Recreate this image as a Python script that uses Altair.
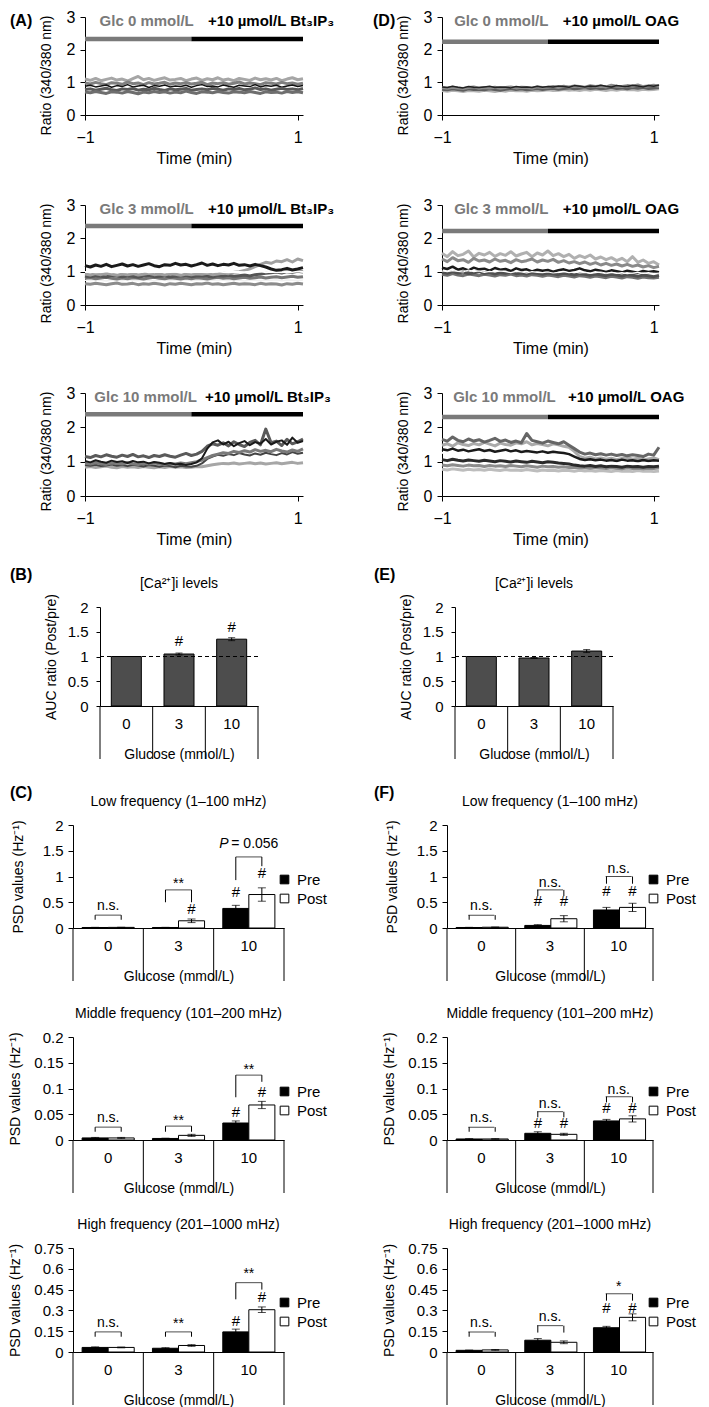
import altair as alt
import pandas as pd

FONT = "Liberation Sans"

# ---------------- time axis of the ratio traces (min) ----------------
TIME = [-1.00, -0.95, -0.90, -0.85, -0.80, -0.75, -0.70,
        -0.65, -0.60, -0.55, -0.50, -0.45, -0.40, -0.35,
        -0.30, -0.25, -0.20, -0.15, -0.10, -0.05, 0.00,
        0.05, 0.10, 0.15, 0.20, 0.25, 0.30, 0.35,
        0.40, 0.45, 0.50, 0.55, 0.60, 0.65, 0.70,
        0.75, 0.80, 0.85, 0.90, 0.95, 1.00, 1.05]

# ---------------- (A) Bt3IP3, Glc 0 ----------------
A0_1 = [1.10, 1.06, 1.12, 1.05, 1.09, 1.13, 1.07, 1.10, 1.04, 1.11, 1.18, 1.08, 1.12, 1.06,
        1.10, 1.14, 1.07, 1.09, 1.12, 1.05, 1.10, 1.13, 1.06, 1.11, 1.08, 1.14, 1.07, 1.10,
        1.05, 1.12, 1.09, 1.06, 1.13, 1.08, 1.11, 1.07, 1.12, 1.05, 1.10, 1.14, 1.08, 1.11]
A0_2 = [0.98, 0.95, 1.00, 0.96, 0.93, 0.99, 0.97, 0.94, 1.01, 0.96, 0.98, 0.93, 0.99, 0.95,
        0.97, 1.00, 0.94, 0.98, 0.96, 0.99, 0.95, 0.97, 1.00, 0.93, 0.98, 0.96, 0.99, 0.94,
        0.97, 1.01, 0.95, 0.98, 0.96, 0.93, 0.99, 0.97, 0.95, 1.00, 0.96, 0.98, 0.94, 0.97]
A0_3 = [0.88, 0.91, 0.86, 0.89, 0.92, 0.85, 0.90, 0.87, 0.93, 0.86, 0.89, 0.91, 0.84, 0.90,
        0.88, 0.92, 0.86, 0.89, 0.87, 0.91, 0.85, 0.90, 0.93, 0.87, 0.89, 0.86, 0.92, 0.88,
        0.85, 0.91, 0.89, 0.87, 0.93, 0.86, 0.90, 0.88, 0.91, 0.85, 0.89, 0.92, 0.87, 0.90]
A0_4 = [0.78, 0.80, 0.76, 0.79, 0.82, 0.77, 0.75, 0.80, 0.78, 0.81, 0.76, 0.79, 0.77, 0.82,
        0.78, 0.75, 0.80, 0.77, 0.79, 0.81, 0.76, 0.78, 0.80, 0.77, 0.82, 0.79, 0.76, 0.80,
        0.78, 0.81, 0.77, 0.79, 0.83, 0.78, 0.80, 0.76, 0.79, 0.82, 0.78, 0.80, 0.77, 0.81]
A0_5 = [0.70, 0.68, 0.72, 0.69, 0.66, 0.71, 0.70, 0.67, 0.72, 0.69, 0.65, 0.70, 0.68, 0.72,
        0.69, 0.71, 0.67, 0.70, 0.68, 0.73, 0.69, 0.66, 0.71, 0.70, 0.68, 0.72, 0.69, 0.67,
        0.71, 0.70, 0.68, 0.72, 0.69, 0.66, 0.71, 0.69, 0.70, 0.67, 0.72, 0.69, 0.71, 0.68]

# ---------------- (A) Bt3IP3, Glc 3 ----------------
A3_1 = [0.64, 0.62, 0.65, 0.63, 0.61, 0.64, 0.66, 0.62, 0.63, 0.65, 0.61, 0.64, 0.62, 0.65,
        0.63, 0.60, 0.64, 0.62, 0.65, 0.63, 0.61, 0.64, 0.63, 0.66, 0.62, 0.64, 0.61, 0.63,
        0.65, 0.62, 0.64, 0.63, 0.61, 0.65, 0.62, 0.64, 0.63, 0.60, 0.64, 0.62, 0.65, 0.63]
A3_2 = [0.74, 0.73, 0.75, 0.74, 0.72, 0.75, 0.74, 0.73, 0.76, 0.74, 0.73, 0.75, 0.74, 0.72,
        0.75, 0.74, 0.73, 0.75, 0.74, 0.76, 0.73, 0.74, 0.75, 0.73, 0.74, 0.76, 0.74, 0.73,
        0.75, 0.74, 0.72, 0.75, 0.74, 0.73, 0.75, 0.74, 0.76, 0.73, 0.75, 0.74, 0.73, 0.75]
A3_3 = [0.80, 0.82, 0.79, 0.81, 0.83, 0.80, 0.78, 0.81, 0.79, 0.82, 0.80, 0.78, 0.81, 0.83,
        0.80, 0.79, 0.82, 0.80, 0.78, 0.81, 0.79, 0.82, 0.80, 0.78, 0.81, 0.83, 0.80, 0.82,
        0.79, 0.81, 0.83, 0.80, 0.82, 0.84, 0.81, 0.83, 0.85, 0.82, 0.84, 0.86, 0.83, 0.85]
A3_4 = [0.87, 0.85, 0.88, 0.86, 0.84, 0.89, 0.87, 0.85, 0.88, 0.86, 0.83, 0.87, 0.89, 0.85,
        0.86, 0.88, 0.84, 0.87, 0.86, 0.89, 0.85, 0.87, 0.88, 0.86, 0.84, 0.88, 0.87, 0.89,
        0.86, 0.88, 0.90, 0.87, 0.91, 0.93, 0.95, 0.97, 0.99, 0.96, 1.00, 0.98, 1.01, 0.99]
A3_5 = [0.93, 0.90, 0.94, 0.91, 0.95, 0.92, 0.89, 0.93, 0.91, 0.94, 0.90, 0.92, 0.95, 0.91,
        0.93, 0.90, 0.94, 0.92, 0.89, 0.93, 0.91, 0.94, 0.92, 0.95, 0.91, 0.93, 0.96, 0.94,
        0.98, 1.00, 1.04, 1.08, 1.15, 1.22, 1.28, 1.25, 1.32, 1.30, 1.36, 1.29, 1.38, 1.33]
A3_6 = [0.99, 1.00, 0.98, 0.99, 1.01, 0.98, 1.00, 0.99, 0.98, 1.00, 0.99, 1.01, 0.98, 0.99,
        1.00, 0.98, 0.99, 1.00, 1.01, 0.99, 0.98, 1.00, 0.99, 0.98, 1.00, 1.01, 0.99, 0.98,
        1.00, 0.99, 0.98, 1.00, 0.99, 1.01, 0.98, 1.00, 0.99, 0.98, 1.00, 0.99, 1.01, 0.99]
A3_7 = [1.18, 1.14, 1.20, 1.16, 1.22, 1.15, 1.19, 1.23, 1.17, 1.21, 1.16, 1.20, 1.24, 1.18,
        1.15, 1.21, 1.19, 1.25, 1.20, 1.22, 1.17, 1.21, 1.26, 1.19, 1.23, 1.18, 1.22, 1.20,
        1.25, 1.19, 1.21, 1.17, 1.22, 1.18, 1.14, 1.08, 1.04, 1.06, 1.10, 1.05, 1.08, 1.12]

# ---------------- (A) Bt3IP3, Glc 10 ----------------
A10_1 = [0.84, 0.86, 0.83, 0.85, 0.87, 0.84, 0.82, 0.86, 0.84, 0.85, 0.83, 0.86, 0.84, 0.82,
         0.85, 0.83, 0.86, 0.84, 0.85, 0.83, 0.84, 0.86, 0.85, 0.88, 0.91, 0.93, 0.95, 0.94,
         0.96, 0.93, 0.95, 0.97, 0.94, 0.96, 0.93, 0.95, 0.97, 0.94, 0.96, 0.98, 0.95, 0.97]
A10_2 = [0.90, 0.88, 0.91, 0.87, 0.89, 0.92, 0.88, 0.90, 0.87, 0.91, 0.89, 0.86, 0.90, 0.88,
         0.85, 0.89, 0.87, 0.84, 0.88, 0.86, 0.85, 0.88, 0.95, 1.08, 1.15, 1.20, 1.17, 1.22,
         1.19, 1.25, 1.21, 1.18, 1.24, 1.20, 1.26, 1.22, 1.19, 1.25, 1.21, 1.28, 1.23, 1.26]
A10_3 = [0.95, 0.93, 0.97, 0.94, 0.92, 0.96, 0.95, 0.93, 0.97, 0.94, 0.92, 0.95, 0.93, 0.96,
         0.94, 0.92, 0.95, 0.93, 0.96, 0.94, 0.97, 1.00, 1.05, 1.12, 1.18, 1.22, 1.26, 1.24,
         1.30, 1.27, 1.32, 1.28, 1.35, 1.30, 1.33, 1.29, 1.36, 1.31, 1.28, 1.34, 1.30, 1.37]
A10_4 = [1.15, 1.12, 1.18, 1.14, 1.20, 1.16, 1.13, 1.19, 1.15, 1.21, 1.14, 1.17, 1.12, 1.18,
         1.15, 1.20, 1.16, 1.13, 1.19, 1.24, 1.18, 1.22, 1.30, 1.45, 1.52, 1.48, 1.55, 1.46,
         1.58, 1.50, 1.44, 1.56, 1.62, 1.49, 1.95, 1.55, 1.60, 1.47, 1.65, 1.52, 1.58, 1.66]
A10_5 = [1.02, 0.98, 1.04, 1.00, 0.97, 1.03, 0.99, 1.01, 0.96, 1.02, 0.98, 1.00, 0.95, 0.99,
         0.97, 0.93, 0.96, 0.92, 0.94, 0.90, 0.93, 0.98, 1.10, 1.38, 1.56, 1.62, 1.50, 1.58,
         1.45, 1.54, 1.60, 1.48, 1.57, 1.52, 1.66, 1.50, 1.58, 1.62, 1.49, 1.70, 1.55, 1.60]

# ---------------- (D) OAG, Glc 0 ----------------
D0_1 = [0.75, 0.73, 0.76, 0.74, 0.72, 0.75, 0.74, 0.73, 0.76, 0.74, 0.72, 0.75, 0.73, 0.76,
        0.74, 0.75, 0.73, 0.76, 0.74, 0.75, 0.77, 0.75, 0.76, 0.78, 0.76, 0.77, 0.75, 0.78,
        0.76, 0.79, 0.77, 0.75, 0.78, 0.76, 0.79, 0.77, 0.78, 0.76, 0.79, 0.77, 0.78, 0.80]
D0_2 = [0.79, 0.77, 0.80, 0.78, 0.76, 0.80, 0.78, 0.79, 0.77, 0.80, 0.78, 0.76, 0.79, 0.81,
        0.78, 0.80, 0.77, 0.79, 0.81, 0.78, 0.80, 0.82, 0.79, 0.81, 0.83, 0.80, 0.82, 0.84,
        0.81, 0.83, 0.80, 0.82, 0.85, 0.81, 0.83, 0.80, 0.84, 0.82, 0.85, 0.81, 0.83, 0.84]
D0_3 = [0.84, 0.82, 0.85, 0.83, 0.81, 0.84, 0.86, 0.82, 0.84, 0.83, 0.85, 0.82, 0.84, 0.86,
        0.83, 0.85, 0.84, 0.82, 0.86, 0.84, 0.85, 0.87, 0.84, 0.88, 0.86, 0.89, 0.87, 0.85,
        0.90, 0.87, 0.89, 0.86, 0.91, 0.88, 0.87, 0.90, 0.88, 0.92, 0.87, 0.89, 0.91, 0.88]
D0_4 = [0.86, 0.84, 0.88, 0.85, 0.83, 0.87, 0.85, 0.84, 0.86, 0.88, 0.84, 0.86, 0.85, 0.83,
        0.87, 0.85, 0.86, 0.84, 0.88, 0.85, 0.87, 0.86, 0.89, 0.87, 0.85, 0.90, 0.88, 0.86,
        0.89, 0.87, 0.91, 0.88, 0.86, 0.90, 0.88, 0.87, 0.91, 0.89, 0.86, 0.90, 0.88, 0.92]

# ---------------- (D) OAG, Glc 3 ----------------
D3_1 = [1.55, 1.45, 1.60, 1.48, 1.52, 1.62, 1.44, 1.55, 1.50, 1.58, 1.46, 1.54, 1.49, 1.60,
        1.47, 1.53, 1.58, 1.45, 1.56, 1.50, 1.62, 1.48, 1.54, 1.45, 1.52, 1.40, 1.48, 1.42,
        1.50, 1.38, 1.44, 1.36, 1.42, 1.33, 1.40, 1.30, 1.45, 1.28, 1.35, 1.25, 1.30, 1.20]
D3_2 = [1.38, 1.30, 1.42, 1.33, 1.36, 1.28, 1.40, 1.32, 1.35, 1.29, 1.38, 1.31, 1.34, 1.27,
        1.36, 1.30, 1.33, 1.38, 1.29, 1.35, 1.31, 1.37, 1.28, 1.33, 1.26, 1.30, 1.24, 1.29,
        1.22, 1.27, 1.20, 1.25, 1.19, 1.23, 1.17, 1.22, 1.16, 1.20, 1.14, 1.18, 1.12, 1.16]
D3_3 = [0.92, 0.89, 0.94, 0.90, 0.88, 0.93, 0.91, 0.88, 0.92, 0.90, 0.87, 0.91, 0.89, 0.93,
        0.88, 0.90, 0.87, 0.91, 0.89, 0.86, 0.90, 0.88, 0.85, 0.89, 0.87, 0.84, 0.88, 0.86,
        0.83, 0.87, 0.85, 0.82, 0.86, 0.84, 0.81, 0.85, 0.83, 0.80, 0.84, 0.82, 0.81, 0.83]
D3_4 = [0.98, 0.95, 1.00, 0.96, 0.99, 0.94, 0.97, 1.00, 0.95, 0.98, 0.93, 0.97, 0.95, 0.99,
        0.94, 0.96, 0.93, 0.97, 0.95, 0.92, 0.96, 0.94, 0.91, 0.95, 0.93, 0.90, 0.94, 0.92,
        0.89, 0.93, 0.91, 0.88, 0.92, 0.90, 0.87, 0.91, 0.89, 0.86, 0.90, 0.88, 0.85, 0.89]
D3_5 = [1.12, 1.08, 1.15, 1.06, 1.10, 1.04, 1.12, 1.07, 1.09, 1.03, 1.11, 1.06, 1.08, 1.02,
        1.10, 1.05, 1.07, 1.01, 1.06, 1.03, 1.05, 1.00, 1.04, 1.07, 1.02, 1.05, 1.10, 1.04,
        1.01, 1.06, 1.03, 0.99, 1.04, 1.01, 0.98, 1.03, 1.00, 0.97, 1.02, 0.99, 1.01, 0.98]
D3_6 = [1.02, 1.00, 1.03, 1.01, 0.99, 1.05, 1.00, 1.02, 0.98, 1.01, 0.99, 1.02, 1.00, 0.97,
        1.01, 0.99, 0.96, 1.00, 0.98, 0.97, 0.99, 0.96, 0.98, 1.00, 0.97, 0.99, 0.96, 0.98,
        0.95, 0.97, 0.99, 0.96, 0.98, 0.95, 0.97, 0.94, 0.96, 0.98, 0.95, 0.97, 0.94, 0.96]

# ---------------- (D) OAG, Glc 10 ----------------
D10_1 = [0.78, 0.76, 0.79, 0.77, 0.75, 0.78, 0.76, 0.77, 0.75, 0.78, 0.76, 0.74, 0.77, 0.75,
         0.76, 0.74, 0.77, 0.75, 0.73, 0.76, 0.74, 0.75, 0.73, 0.75, 0.74, 0.72, 0.75, 0.73,
         0.74, 0.72, 0.74, 0.73, 0.71, 0.74, 0.72, 0.73, 0.71, 0.74, 0.72, 0.73, 0.71, 0.73]
D10_2 = [0.90, 0.88, 0.91, 0.89, 0.87, 0.90, 0.88, 0.89, 0.86, 0.89, 0.87, 0.88, 0.86, 0.89,
         0.87, 0.85, 0.88, 0.86, 0.84, 0.87, 0.85, 0.86, 0.84, 0.85, 0.83, 0.84, 0.82, 0.83,
         0.81, 0.83, 0.82, 0.80, 0.82, 0.81, 0.79, 0.82, 0.80, 0.81, 0.79, 0.81, 0.80, 0.82]
D10_3 = [1.06, 1.03, 1.07, 1.04, 1.02, 1.05, 1.03, 1.01, 1.04, 1.02, 1.00, 1.03, 1.01, 0.99,
         1.02, 1.00, 0.98, 1.01, 0.99, 0.97, 1.00, 0.98, 0.96, 0.95, 0.93, 0.90, 0.88, 0.87,
         0.89, 0.86, 0.88, 0.85, 0.87, 0.86, 0.84, 0.87, 0.85, 0.86, 0.84, 0.86, 0.85, 0.87]
D10_4 = [1.48, 1.52, 1.45, 1.55, 1.50, 1.47, 1.53, 1.49, 1.56, 1.51, 1.46, 1.54, 1.50, 1.48,
         1.55, 1.52, 1.58, 1.49, 1.53, 1.50, 1.46, 1.52, 1.49, 1.45, 1.42, 1.30, 1.15, 1.10,
         1.13, 1.08, 1.11, 1.07, 1.10, 1.06, 1.09, 1.12, 1.07, 1.10, 1.05, 1.08, 1.11, 1.06]
D10_5 = [1.65, 1.60, 1.72, 1.62, 1.58, 1.66, 1.60, 1.64, 1.57, 1.62, 1.68, 1.59, 1.63, 1.56,
         1.60, 1.55, 1.82, 1.62, 1.58, 1.54, 1.60, 1.56, 1.52, 1.58, 1.48, 1.38, 1.28, 1.22,
         1.25, 1.20, 1.23, 1.19, 1.22, 1.18, 1.21, 1.17, 1.20, 1.18, 1.15, 1.22, 1.19, 1.42]
D10_6 = [1.36, 1.33, 1.38, 1.32, 1.35, 1.30, 1.33, 1.36, 1.31, 1.34, 1.29, 1.32, 1.35, 1.30,
         1.33, 1.28, 1.31, 1.29, 1.27, 1.30, 1.26, 1.29, 1.27, 1.25, 1.22, 1.15, 1.08, 1.05,
         1.07, 1.04, 1.06, 1.03, 1.05, 1.02, 1.06, 1.03, 1.04, 1.01, 1.05, 1.02, 1.04, 1.03]
D10_7 = [1.26, 1.24, 1.27, 1.23, 1.25, 1.22, 1.24, 1.23, 1.21, 1.23, 1.20, 1.22, 1.19, 1.21,
         1.18, 1.20, 1.17, 1.19, 1.16, 1.18, 1.15, 1.17, 1.14, 1.12, 1.08, 1.02, 0.98, 0.96,
         0.97, 0.95, 0.97, 0.94, 0.96, 0.95, 0.93, 0.96, 0.94, 0.95, 0.93, 0.95, 0.94, 0.96]

# trace styles (colour, line width), in drawing order
STY_A0 = [("#a6a6a6", 3), ("#808080", 3), ("#111111", 1.5), ("#595959", 3), ("#6e6e6e", 3)]
STY_A3 = [("#8c8c8c", 3), ("#f0f0f0", 1.5), ("#777777", 3), ("#555555", 3), ("#a0a0a0", 3),
          ("#ffffff", 2), ("#1a1a1a", 3)]
STY_A10 = [("#a6a6a6", 3), ("#444444", 2), ("#7a7a7a", 3), ("#5a5a5a", 3), ("#1a1a1a", 2)]
STY_D0 = [("#b3b3b3", 3), ("#5e5e5e", 3), ("#8c8c8c", 3), ("#222222", 1.5)]
STY_D3 = [("#b0b0b0", 3), ("#8a8a8a", 3), ("#707070", 3), ("#505050", 3), ("#1a1a1a", 2.5),
          ("#ffffff", 1.2)]
STY_D10 = [("#bdbdbd", 3), ("#8c8c8c", 3), ("#2a2a2a", 3), ("#aaaaaa", 3), ("#666666", 3),
           ("#1a1a1a", 2.5), ("#ffffff", 2)]

# ---------------- (B)/(E) AUC ratio ----------------
GLC = ["0", "3", "10"]
B_AUC = [1.00, 1.05, 1.35]
B_ERR = [0.0, 0.02, 0.03]
B_HASH = [("3", 1.31), ("10", 1.60)]
E_AUC = [1.00, 0.97, 1.11]
E_ERR = [0.0, 0.01, 0.03]
E_HASH = []

# ---------------- (C)/(F) PSD values ----------------
PHASES = ["Pre", "Post"]
C_LOW = dict(pre=[0.01, 0.01, 0.38], pre_err=[0.003, 0.003, 0.06],
             post=[0.012, 0.14, 0.65], post_err=[0.003, 0.035, 0.13])
C_LOW_HASH = [("3", "Post", 0.37), ("10", "Pre", 0.70), ("10", "Post", 1.07)]
C_LOW_BR = [("0", 0.25, 0.16, 0.16, "n.s.", 0.42), ("3", 0.74, 0.50, 0.50, "**", 0.85),
            ("10", 1.38, 0.93, 1.20, "P", 1.63)]
C_MID = dict(pre=[0.004, 0.003, 0.033], pre_err=[0.001, 0.0005, 0.004],
             post=[0.004, 0.009, 0.068], post_err=[0.001, 0.002, 0.007])
C_MID_HASH = [("10", "Pre", 0.054), ("10", "Post", 0.093)]
C_MID_BR = [("0", 0.025, 0.016, 0.016, "n.s.", 0.042), ("3", 0.027, 0.016, 0.016, "**", 0.037),
            ("10", 0.126, 0.083, 0.113, "**", 0.136)]
C_HIGH = dict(pre=[0.033, 0.027, 0.145], pre_err=[0.004, 0.004, 0.02],
              post=[0.033, 0.047, 0.305], post_err=[0.003, 0.006, 0.02])
C_HIGH_HASH = [("10", "Pre", 0.22), ("10", "Post", 0.40)]
C_HIGH_BR = [("0", 0.145, 0.11, 0.11, "n.s.", 0.21), ("3", 0.145, 0.11, 0.11, "**", 0.20),
             ("10", 0.50, 0.38, 0.45, "**", 0.56)]

F_LOW = dict(pre=[0.01, 0.05, 0.35], pre_err=[0.003, 0.015, 0.05],
             post=[0.015, 0.18, 0.40], post_err=[0.004, 0.06, 0.08])
F_LOW_HASH = [("3", "Pre", 0.52), ("3", "Post", 0.52), ("10", "Pre", 0.72), ("10", "Post", 0.72)]
F_LOW_BR = [("0", 0.25, 0.16, 0.16, "n.s.", 0.42), ("3", 0.74, 0.62, 0.62, "n.s.", 0.88),
            ("10", 1.00, 0.86, 0.86, "n.s.", 1.14)]
F_MID = dict(pre=[0.002, 0.013, 0.037], pre_err=[0.0005, 0.003, 0.003],
             post=[0.002, 0.011, 0.041], post_err=[0.0005, 0.002, 0.006])
F_MID_HASH = [("3", "Pre", 0.033), ("3", "Post", 0.033), ("10", "Pre", 0.062), ("10", "Post", 0.062)]
F_MID_BR = [("0", 0.025, 0.016, 0.016, "n.s.", 0.042), ("3", 0.055, 0.044, 0.044, "n.s.", 0.069),
            ("10", 0.084, 0.073, 0.073, "n.s.", 0.098)]
F_HIGH = dict(pre=[0.012, 0.085, 0.175], pre_err=[0.002, 0.012, 0.01],
              post=[0.015, 0.07, 0.25], post_err=[0.003, 0.01, 0.025])
F_HIGH_HASH = [("10", "Pre", 0.32), ("10", "Post", 0.32)]
F_HIGH_BR = [("0", 0.145, 0.11, 0.11, "n.s.", 0.21), ("3", 0.19, 0.14, 0.14, "n.s.", 0.255),
             ("10", 0.42, 0.37, 0.37, "*", 0.47)]

# ---------------- layout (pixels) ----------------
COL_L0, COL_L, COL_M, COL_R = 63, 230, 139, 217   # left margin, left cell, gap, right cell
SEP = 53                                           # length of the category separators


# ======================================================================
def spacer(w, h):
    return alt.Chart(pd.DataFrame({"z": [0]})).mark_point(opacity=0, size=1).encode(
        x=alt.value(w / 2), y=alt.value(h / 2)).properties(width=w, height=h)


def letter_mark(txt, dx, dy):
    return alt.Chart(pd.DataFrame({"s": [txt]})).mark_text(
        align="left", baseline="middle", fontSize=16, fontWeight="bold", font=FONT,
        color="black").encode(x=alt.value(dx), y=alt.value(dy), text="s:N")


def trace_panel(series, styles, glc_txt, drug_txt, glc_x, drug_x, bar_y, letter, letter_dx,
                shift, w, h, cellw):
    rows = []
    for i, (vals, (col, sw)) in enumerate(zip(series, styles)):
        for t, v in zip(TIME, vals):
            rows.append({"t": t, "r": v, "id": f"s{i:02d}", "col": col, "sw": sw})
    df = pd.DataFrame(rows)
    xs = alt.Scale(domain=[-1, 1.05], range=[shift, shift + w], nice=False, zero=False)
    ys = alt.Scale(domain=[0, 3], nice=False)
    xax = alt.Axis(values=[-1, 0, 1], format="d", title="Time (min)", labelFontSize=16,
                   titleFontSize=16, tickSize=5, labelPadding=9, titlePadding=5,
                   labelFlush=False, grid=False)
    yax = alt.Axis(values=[0, 1, 2, 3], format="d", title="Ratio (340/380 nm)",
                   labelFontSize=16, titleFontSize=14, tickSize=5, labelPadding=5,
                   titlePadding=13, titleY=58, offset=-shift, grid=False)

    def X(f):
        return alt.X(f, type="quantitative", scale=xs, axis=xax)

    def Y(f):
        return alt.Y(f, type="quantitative", scale=ys, axis=yax)

    lines = alt.Chart(df).mark_line(strokeJoin="round").encode(
        x=X("t"), y=Y("r"), detail="id:N",
        color=alt.Color("col:N", scale=None),
        strokeWidth=alt.StrokeWidth("sw:N", scale=None))
    cond = pd.DataFrame({"x": [-1, 0], "x2": [0, 1.05], "y": [bar_y, bar_y],
                         "c": ["#7a7a7a", "#000000"]})
    cbars = alt.Chart(cond).mark_rule(strokeWidth=4.5).encode(
        x=X("x"), x2="x2:Q", y=Y("y"), color=alt.Color("c:N", scale=None))
    labs = pd.DataFrame({"x": [glc_x, drug_x], "y": [2.88, 2.88], "s": [glc_txt, drug_txt],
                         "c": ["#7a7a7a", "#000000"]})
    ltxt = alt.Chart(labs).mark_text(fontSize=15, fontWeight="bold", font=FONT,
                                     baseline="middle").encode(
        x=X("x"), y=Y("y"), text="s:N", color=alt.Color("c:N", scale=None))
    layers = [lines, cbars, ltxt]
    if letter:
        layers.append(letter_mark(letter, letter_dx, 4))
    return alt.layer(*layers).properties(width=cellw, height=h)


def cat_axis():
    return alt.Axis(title="Glucose (mmol/L)", labelAngle=0, ticks=False, tickSize=0,
                    labelPadding=10, titlePadding=16, labelFontSize=15, titleFontSize=14,
                    grid=False)


def separators(xs, xax, h):
    sep = alt.Chart(pd.DataFrame({"g": GLC})).mark_rule(color="black", strokeWidth=1).encode(
        x=alt.X("g:N", bandPosition=0, scale=xs, axis=xax),
        y=alt.value(h), y2=alt.value(h + SEP))
    sep_end = alt.Chart(pd.DataFrame({"g": [GLC[-1]]})).mark_rule(
        color="black", strokeWidth=1).encode(
        x=alt.X("g:N", bandPosition=1, scale=xs, axis=xax),
        y=alt.value(h), y2=alt.value(h + SEP))
    return [sep, sep_end]


def auc_panel(vals, errs, hashes, letter, letter_dx, shift, w, h, cellw):
    df = pd.DataFrame({"g": GLC, "v": vals, "e": errs})
    df["lo"] = df["v"] - df["e"]
    df["hi"] = df["v"] + df["e"]
    dfe = df[df["e"] > 0]
    xs = alt.Scale(domain=GLC, range=[shift, shift + w], paddingInner=0, paddingOuter=0)
    ys = alt.Scale(domain=[0, 2], nice=False)
    xax = cat_axis()
    yax = alt.Axis(values=[0, 0.5, 1, 1.5, 2], labelExpr="datum.value + ''",
                   title="AUC ratio (Post/pre)", labelFontSize=15, titleFontSize=14,
                   tickSize=4, labelPadding=8, titlePadding=9, offset=-shift, grid=False)
    X = alt.X("g:N", scale=xs, axis=xax)

    def Y(f):
        return alt.Y(f, type="quantitative", scale=ys, axis=yax)

    bars = alt.Chart(df).mark_bar(width=alt.RelativeBandSize(0.57), fill="#4d4d4d",
                                  stroke="black", strokeWidth=1).encode(x=X, y=Y("v"))
    eb = alt.Chart(dfe).mark_rule(color="black").encode(x=X, y=Y("lo"), y2="hi:Q")
    cap_lo = alt.Chart(dfe).mark_tick(orient="horizontal", size=7, thickness=1,
                                      color="black").encode(x=X, y=Y("lo"))
    cap_hi = alt.Chart(dfe).mark_tick(orient="horizontal", size=7, thickness=1,
                                      color="black").encode(x=X, y=Y("hi"))
    dash = alt.Chart(pd.DataFrame({"y": [1.0]})).mark_rule(
        strokeDash=[4, 3], color="black", strokeWidth=1).encode(
        x=alt.value(shift), x2=alt.value(shift + w), y=Y("y"))
    layers = [bars, eb, cap_lo, cap_hi, dash] + separators(xs, xax, h)
    if hashes:
        hdf = pd.DataFrame(hashes, columns=["g", "y"])
        layers.append(alt.Chart(hdf).mark_text(text="#", fontSize=15, font=FONT,
                                               baseline="middle").encode(x=X, y=Y("y")))
    title = alt.Chart(pd.DataFrame({"s": ["[Ca²⁺]i levels"]})).mark_text(
        fontSize=14, font=FONT, baseline="middle").encode(
        x=alt.value(shift + w / 2), y=alt.value(-23), text="s:N")
    layers += [title, letter_mark(letter, letter_dx, -32)]
    return alt.layer(*layers).properties(width=cellw, height=h)


def psd_panel(d, hashes, brackets, yvals, title, letter, letter_dx, shift, w, h, cellw,
              leg_y, title_pad):
    ymax = yvals[-1]
    df = pd.DataFrame({"g": GLC * 2, "phase": ["Pre"] * 3 + ["Post"] * 3,
                       "v": d["pre"] + d["post"], "e": d["pre_err"] + d["post_err"]})
    df["lo"] = df["v"] - df["e"]
    df["hi"] = df["v"] + df["e"]
    xs = alt.Scale(domain=GLC, range=[shift, shift + w], paddingInner=0, paddingOuter=0)
    ys = alt.Scale(domain=[0, ymax], nice=False)
    xax = cat_axis()
    yax = alt.Axis(values=yvals, labelExpr="datum.value + ''", title="PSD values  (Hz⁻¹)",
                   labelFontSize=15, titleFontSize=14, tickSize=5, labelPadding=5,
                   titlePadding=title_pad, offset=-shift, grid=False)
    X = alt.X("g:N", scale=xs, axis=xax)
    XO = alt.XOffset("phase:N", scale=alt.Scale(domain=PHASES, paddingInner=0,
                                                 paddingOuter=0.35))

    def Y(f):
        return alt.Y(f, type="quantitative", scale=ys, axis=yax)

    bars = alt.Chart(df).mark_bar(stroke="black", strokeWidth=1).encode(
        x=X, xOffset=XO, y=Y("v"),
        fill=alt.Fill("phase:N", scale=alt.Scale(domain=PHASES, range=["black", "white"]),
                      legend=alt.Legend(orient="none", legendX=shift + w - 7, legendY=leg_y,
                                        title=None, symbolType="square", symbolSize=75,
                                        symbolStrokeColor="black", symbolStrokeWidth=1,
                                        labelFontSize=15, labelFont=FONT, rowPadding=3,
                                        labelOffset=5, padding=0)))
    eb = alt.Chart(df).mark_rule(color="black").encode(x=X, xOffset=XO, y=Y("lo"), y2="hi:Q")
    cap_lo = alt.Chart(df).mark_tick(orient="horizontal", size=8, thickness=1,
                                     color="black").encode(x=X, xOffset=XO, y=Y("lo"))
    cap_hi = alt.Chart(df).mark_tick(orient="horizontal", size=8, thickness=1,
                                     color="black").encode(x=X, xOffset=XO, y=Y("hi"))
    hdf = pd.DataFrame(hashes, columns=["g", "phase", "y"])
    htxt = alt.Chart(hdf).mark_text(text="#", fontSize=15, font=FONT,
                                    baseline="middle").encode(x=X, xOffset=XO, y=Y("y"))
    br = pd.DataFrame(brackets, columns=["g", "top", "bpre", "bpost", "lab", "ly"])
    legs = pd.DataFrame(
        [(r.g, "Pre", r.top, r.bpre) for r in br.itertuples()] +
        [(r.g, "Post", r.top, r.bpost) for r in br.itertuples()],
        columns=["g", "phase", "top", "bot"])
    hline = alt.Chart(br).mark_tick(orient="horizontal", size=26, thickness=1,
                                    color="black").encode(x=X, y=Y("top"))
    vlegs = alt.Chart(legs).mark_rule(color="black").encode(
        x=X, xOffset=XO, y=Y("top"), y2="bot:Q")
    plain = br[br["lab"] != "P"]
    btxt = alt.Chart(plain).mark_text(fontSize=14, font=FONT, baseline="middle").encode(
        x=X, y=Y("ly"), text="lab:N")
    layers = [bars, eb, cap_lo, cap_hi, htxt, hline, vlegs, btxt] + separators(xs, xax, h)
    pval = br[br["lab"] == "P"]
    if len(pval):
        layers.append(alt.Chart(pval).mark_text(text="P", fontSize=14, font=FONT,
                                                fontStyle="italic", baseline="middle",
                                                dx=-25).encode(x=X, y=Y("ly")))
        layers.append(alt.Chart(pval).mark_text(text="= 0.056", fontSize=14, font=FONT,
                                                baseline="middle", dx=6).encode(
            x=X, y=Y("ly")))
    ttl = alt.Chart(pd.DataFrame({"s": [title]})).mark_text(
        fontSize=14, font=FONT, baseline="middle").encode(
        x=alt.value(shift + w / 2), y=alt.value(-23), text="s:N")
    layers.append(ttl)
    if letter:
        layers.append(letter_mark(letter, letter_dx, -32))
    return alt.layer(*layers).properties(width=cellw, height=h)


# ======================================================================
A1 = trace_panel([A0_1, A0_2, A0_3, A0_4, A0_5], STY_A0, "Glc 0 mmol/L", "+10 µmol/L Bt₃IP₃",
                 -0.42, 0.75, 2.33, "(A)", -63, 12, 218, 98, COL_L)
A2 = trace_panel([A3_1, A3_2, A3_3, A3_4, A3_5, A3_6, A3_7], STY_A3, "Glc 3 mmol/L",
                 "+10 µmol/L Bt₃IP₃", -0.42, 0.75, 2.37, "", 0, 12, 218, 100, COL_L)
A3 = trace_panel([A10_1, A10_2, A10_3, A10_4, A10_5], STY_A10, "Glc 10 mmol/L",
                 "+10 µmol/L Bt₃IP₃", -0.43, 0.72, 2.38, "", 0, 12, 218, 103, COL_L)
D1 = trace_panel([D0_1, D0_2, D0_3, D0_4], STY_D0, "Glc 0 mmol/L", "+10 µmol/L OAG",
                 -0.44, 0.69, 2.24, "(D)", -69, 0, 217, 98, COL_R)
D2 = trace_panel([D3_1, D3_2, D3_3, D3_4, D3_5, D3_6], STY_D3, "Glc 3 mmol/L",
                 "+10 µmol/L OAG", -0.44, 0.69, 2.22, "", 0, 0, 217, 100, COL_R)
D3 = trace_panel([D10_1, D10_2, D10_3, D10_4, D10_5, D10_6, D10_7], STY_D10, "Glc 10 mmol/L",
                 "+10 µmol/L OAG", -0.41, 0.74, 2.30, "", 0, 0, 217, 103, COL_R)

B = auc_panel(B_AUC, B_ERR, B_HASH, "(B)", -63, 27, 158, 99, COL_L)
E = auc_panel(E_AUC, E_ERR, E_HASH, "(E)", -68, 13, 158, 99, COL_R)

CL = psd_panel(C_LOW, C_LOW_HASH, C_LOW_BR, [0, 0.5, 1, 1.5, 2],
               "Low frequency  (1–100 mHz)", "(C)", -63, 0, 211, 103, COL_L, 47, 17)
CM = psd_panel(C_MID, C_MID_HASH, C_MID_BR, [0, 0.05, 0.1, 0.15, 0.2],
               "Middle frequency  (101–200 mHz)", "", 0, 0, 211, 103, COL_L, 47, 11)
CH = psd_panel(C_HIGH, C_HIGH_HASH, C_HIGH_BR, [0, 0.15, 0.3, 0.45, 0.6, 0.75],
               "High frequency  (201–1000 mHz)", "", 0, 0, 211, 104, COL_L, 47, 11)
FL = psd_panel(F_LOW, F_LOW_HASH, F_LOW_BR, [0, 0.5, 1, 1.5, 2],
               "Low frequency  (1–100 mHz)", "(F)", -68, 5, 206, 103, COL_R, 47, 17)
FM = psd_panel(F_MID, F_MID_HASH, F_MID_BR, [0, 0.05, 0.1, 0.15, 0.2],
               "Middle frequency  (101–200 mHz)", "", 0, 5, 206, 103, COL_R, 47, 11)
FH = psd_panel(F_HIGH, F_HIGH_HASH, F_HIGH_BR, [0, 0.15, 0.3, 0.45, 0.6, 0.75],
               "High frequency  (201–1000 mHz)", "", 0, 5, 206, 104, COL_R, 47, 11)

# grid of 4 equal-width columns: left margin, left panel, middle gap, right panel
cells = []


def add_row(left, right, h):
    cells.extend([spacer(COL_L0, h), left, spacer(COL_M, h), right])


def add_gap(h):
    cells.extend([spacer(COL_L0, h), spacer(COL_L, h), spacer(COL_M, h), spacer(COL_R, h)])


add_row(A1, D1, 98)
add_gap(90)
add_row(A2, D2, 100)
add_gap(88)
add_row(A3, D3, 103)
add_gap(111)
add_row(B, E, 99)
add_gap(119)
add_row(CL, FL, 103)
add_gap(109)
add_row(CM, FM, 103)
add_gap(108)
add_row(CH, FH, 104)

chart = alt.concat(*cells, columns=4, bounds="flush", spacing=0).resolve_scale(
    fill="independent").properties(padding=0).configure(font=FONT).configure_axis(
    labelFont=FONT, titleFont=FONT, labelColor="black", titleColor="black",
    domainColor="black", tickColor="black", titleFontWeight="normal", grid=False
).configure_view(stroke="transparent").configure_text(font=FONT)

chart.save("out.html", embed_options={"renderer": "svg", "actions": False})
